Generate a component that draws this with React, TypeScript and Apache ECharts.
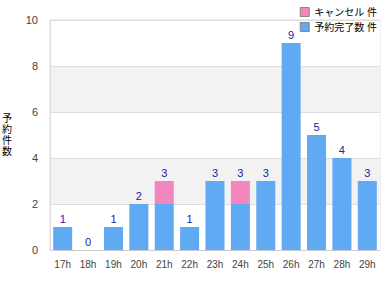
import React, { useEffect, useRef } from "react";
import * as echarts from "echarts";

const categories = ["17h", "18h", "19h", "20h", "21h", "22h", "23h", "24h", "25h", "26h", "27h", "28h", "29h"];
const blueValues = [1, 0, 1, 2, 2, 1, 3, 2, 3, 9, 5, 4, 3];
const pinkValues = [0, 0, 0, 0, 1, 0, 0, 1, 0, 0, 0, 0, 0];
const pinkName = "キャンセル 件";
const blueName = "予約完了数 件";
const yAxisName = "予約件数";

export default function App() {
  const ref = useRef<HTMLDivElement>(null);
  useEffect(() => {
    const chart = echarts.init(ref.current!, null, { renderer: "svg" });
    chart.setOption({
      animation: false,
      textStyle: { fontFamily: "Arial, 'Liberation Sans', 'Noto Sans CJK JP', sans-serif" },
      legend: {
        orient: "vertical",
        right: 8,
        top: 2,
        itemWidth: 9,
        itemHeight: 9,
        itemGap: 5,
        icon: "rect",
        textStyle: { fontSize: 10, color: "#000" },
        data: [
          { name: pinkName, itemStyle: { borderColor: "#888", borderWidth: 1 } },
          { name: blueName, itemStyle: { borderColor: "#888", borderWidth: 1 } },
        ],
      },
      grid: {
        left: 50, right: 10, top: 20, bottom: 50,
        containLabel: false,
        outerBoundsMode: "none",
        show: true, borderColor: "#ddd", borderWidth: 1, backgroundColor: "transparent",
      },
      xAxis: {
        type: "category",
        data: categories,
        axisLine: { lineStyle: { color: "#ccc" } },
        axisTick: { show: false },
        axisLabel: { color: "#444", fontSize: 10, margin: 9, interval: 0 },
      },
      yAxis: {
        type: "value",
        min: 0,
        max: 10,
        interval: 2,
        name: yAxisName.split("").join("\n"),
        nameLocation: "middle",
        nameGap: 38,
        nameRotate: 0,
        nameTextStyle: { color: "#000", fontSize: 10, lineHeight: 11 },
        axisLine: { show: true, lineStyle: { color: "#ddd" } },
        axisTick: { show: false },
        axisLabel: { color: "#444", fontSize: 11, margin: 12 },
        splitLine: { lineStyle: { color: "#ddd" } },
        splitArea: { show: true, areaStyle: { color: ["#ffffff", "#f2f2f2"] } },
      },
      series: [
        {
          name: blueName,
          type: "bar",
          stack: "a",
          data: blueValues,
          barWidth: 19,
          itemStyle: { color: "#60a9f3" },
        },
        {
          name: pinkName,
          type: "bar",
          stack: "a",
          data: pinkValues,
          barWidth: 19,
          itemStyle: { color: "#f486bf" },
          label: {
            show: true,
            position: "top",
            color: "#1e22a6",
            fontSize: 11,
            distance: 3,
            formatter: (p: any) => String(blueValues[p.dataIndex] + pinkValues[p.dataIndex]),
          },
        },
      ],
    });
    return () => chart.dispose();
  }, []);
  return <div ref={ref} style={{ width: 390, height: 300, position: "absolute", left: 0, top: 0 }} />;
}
